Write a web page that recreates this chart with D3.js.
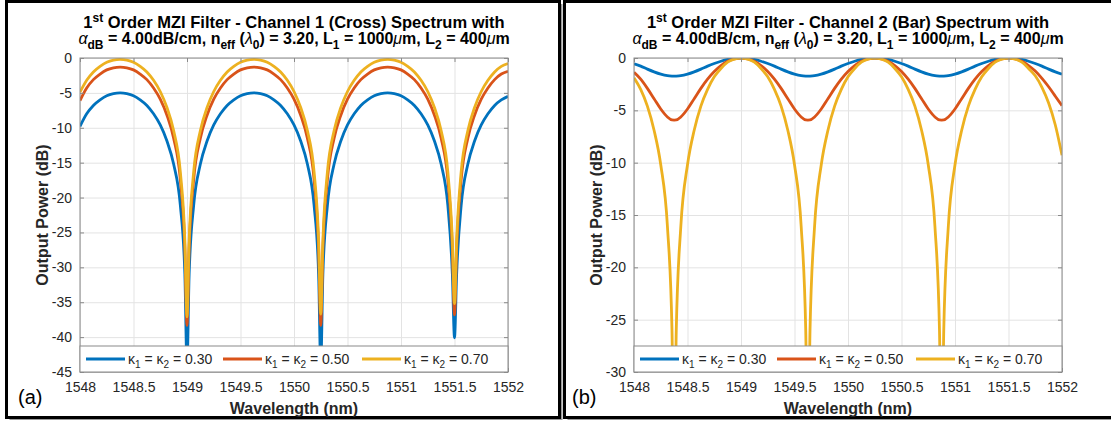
<!DOCTYPE html>
<html>
<head>
<meta charset="utf-8">
<script src="https://cdn.jsdelivr.net/npm/d3@7"></script>
<style>
  body { margin: 0; background: #fff; }
  svg { display: block; font-family: "Liberation Sans", Arial, Helvetica, sans-serif; }
  text { white-space: pre; }
  .tick text { font-size: 14px; fill: #262626; }
  .grid line { stroke: #e3e3e3; stroke-width: 1; }
  .grid path { display: none; }
  .ax path { display: none; }
  .ax line { stroke: #8a8a8a; }
</style>
</head>
<body>
<svg width="1111" height="423"></svg>
<script>
const wlTicks = [1548, 1548.5, 1549, 1549.5, 1550, 1550.5, 1551, 1551.5, 1552];
const crossTicks = [0, -5, -10, -15, -20, -25, -30, -35, -40, -45];
const barTicks = [0, -5, -10, -15, -20, -25, -30];
const kappaLabels = ["0.30", "0.50", "0.70"];
const kappaColors = ["#0072BD", "#D95319", "#EDB120"];

// channel 1 (cross) spectrum
const crossWl = [1548, 1548.0625, 1548.125, 1548.1875, 1548.25, 1548.3125, 1548.375, 1548.4375, 1548.5, 1548.5625, 1548.625, 1548.6875, 1548.75, 1548.8125, 1548.875, 1548.9375,
  1548.98, 1549, 1549.02,
  1549.0625, 1549.125, 1549.1875, 1549.25, 1549.3125, 1549.375, 1549.4375, 1549.5, 1549.5625, 1549.625, 1549.6875, 1549.75, 1549.8125, 1549.875, 1549.9375, 1550, 1550.0625, 1550.125, 1550.1875,
  1550.23, 1550.25, 1550.27,
  1550.3125, 1550.375, 1550.4375, 1550.5, 1550.5625, 1550.625, 1550.6875, 1550.75, 1550.8125, 1550.875, 1550.9375, 1551, 1551.0625, 1551.125, 1551.1875, 1551.25, 1551.3125, 1551.375, 1551.4375,
  1551.48, 1551.5, 1551.52,
  1551.5625, 1551.625, 1551.6875, 1551.75, 1551.8125, 1551.875, 1551.9375, 1552];
const crossK30 = [-9.8, -8.0, -6.8, -6.0, -5.4, -5.1, -5.0, -5.1, -5.4, -6.0, -6.8, -8.0, -9.6, -11.9, -15.2, -21.1,
  -31.0, -44.0, -31.0,
  -21.1, -15.2, -11.9, -9.6, -8.0, -6.8, -6.0, -5.4, -5.1, -5.0, -5.1, -5.4, -6.0, -6.8, -8.0, -9.6, -11.9, -15.2, -21.1,
  -31.0, -44.0, -31.0,
  -21.1, -15.2, -11.9, -9.6, -8.0, -6.8, -6.0, -5.4, -5.1, -5.0, -5.1, -5.4, -6.0, -6.8, -8.0, -9.6, -11.9, -15.2, -21.1,
  -31.0, -40.1, -31.0,
  -21.1, -15.2, -11.9, -9.6, -8.0, -6.8, -6.0, -5.5];
const crossK50 = [-6.1, -4.3, -3.1, -2.3, -1.7, -1.4, -1.3, -1.4, -1.7, -2.3, -3.1, -4.3, -5.9, -8.2, -11.5, -17.4,
  -27.3, -38.3, -27.3,
  -17.4, -11.5, -8.2, -5.9, -4.3, -3.1, -2.3, -1.7, -1.4, -1.3, -1.4, -1.7, -2.3, -3.1, -4.3, -5.9, -8.2, -11.5, -17.4,
  -27.3, -38.3, -27.3,
  -17.4, -11.5, -8.2, -5.9, -4.3, -3.1, -2.3, -1.7, -1.4, -1.3, -1.4, -1.7, -2.3, -3.1, -4.3, -5.9, -8.2, -11.5, -17.4,
  -27.3, -36.8, -27.3,
  -17.4, -11.5, -8.2, -5.9, -4.3, -3.1, -2.3, -1.9];
const crossK70 = [-4.9, -3.2, -2.0, -1.2, -0.6, -0.3, -0.2, -0.3, -0.6, -1.2, -2.0, -3.2, -4.8, -7.1, -10.4, -16.3,
  -26.2, -37.1, -26.2,
  -16.3, -10.4, -7.1, -4.8, -3.2, -2.0, -1.2, -0.6, -0.3, -0.2, -0.3, -0.6, -1.2, -2.0, -3.2, -4.8, -7.1, -10.4, -16.3,
  -26.2, -36.7, -26.2,
  -16.3, -10.4, -7.1, -4.8, -3.2, -2.0, -1.2, -0.6, -0.3, -0.2, -0.3, -0.6, -1.2, -2.0, -3.2, -4.8, -7.1, -10.4, -16.3,
  -26.2, -35.2, -26.2,
  -16.3, -10.4, -7.1, -4.8, -3.2, -2.0, -1.2, -0.8];

// channel 2 (bar) spectrum
const barWl = [1548, 1548.0625, 1548.125, 1548.1875, 1548.25, 1548.3125,
  1548.355, 1548.375, 1548.395,
  1548.4375, 1548.5, 1548.5625, 1548.625, 1548.6875, 1548.75, 1548.8125, 1548.875, 1548.9375, 1549, 1549.0625, 1549.125, 1549.1875, 1549.25, 1549.3125, 1549.375, 1549.4375, 1549.5, 1549.5625,
  1549.605, 1549.625, 1549.645,
  1549.6875, 1549.75, 1549.8125, 1549.875, 1549.9375, 1550, 1550.0625, 1550.125, 1550.1875, 1550.25, 1550.3125, 1550.375, 1550.4375, 1550.5, 1550.5625, 1550.625, 1550.6875, 1550.75, 1550.8125,
  1550.855, 1550.875, 1550.895,
  1550.9375, 1551, 1551.0625, 1551.125, 1551.1875, 1551.25, 1551.3125, 1551.375, 1551.4375, 1551.5, 1551.5625, 1551.625, 1551.6875, 1551.75, 1551.8125, 1551.875, 1551.9375, 1552];
const barK30 = [-0.55, -0.78, -1.06, -1.32, -1.54, -1.69,
  -1.73, -1.74, -1.73,
  -1.69, -1.54, -1.32, -1.06, -0.78, -0.53, -0.31, -0.14, -0.03, 0.0, -0.03, -0.14, -0.31, -0.53, -0.78, -1.06, -1.32, -1.54, -1.69,
  -1.73, -1.74, -1.73,
  -1.69, -1.54, -1.32, -1.06, -0.78, -0.53, -0.31, -0.14, -0.03, 0.0, -0.03, -0.14, -0.31, -0.53, -0.78, -1.06, -1.32, -1.54, -1.69,
  -1.73, -1.74, -1.73,
  -1.69, -1.54, -1.32, -1.06, -0.78, -0.53, -0.31, -0.14, -0.03, 0.0, -0.03, -0.14, -0.31, -0.53, -0.78, -1.06, -1.32, -1.54];
const barK50 = [-1.37, -2.02, -2.90, -3.89, -4.87, -5.63,
  -5.92, -5.93, -5.92,
  -5.63, -4.87, -3.89, -2.90, -2.02, -1.29, -0.72, -0.32, -0.08, 0.0, -0.08, -0.32, -0.72, -1.29, -2.02, -2.90, -3.89, -4.87, -5.63,
  -5.92, -5.93, -5.92,
  -5.63, -4.87, -3.89, -2.90, -2.02, -1.29, -0.72, -0.32, -0.08, 0.0, -0.08, -0.32, -0.72, -1.29, -2.02, -2.90, -3.89, -4.87, -5.63,
  -5.92, -5.93, -5.92,
  -5.63, -4.87, -3.89, -2.90, -2.02, -1.29, -0.72, -0.32, -0.08, 0.0, -0.08, -0.32, -0.72, -1.25, -1.95, -2.75, -3.65, -4.55];
const barK70 = [-1.9, -3.0, -4.6, -6.9, -10.2, -16.1,
  -26.0, -40.0, -26.0,
  -16.1, -10.2, -6.9, -4.6, -3.0, -1.8, -1.0, -0.4, -0.1, 0.0, -0.1, -0.4, -1.0, -1.8, -3.0, -4.6, -6.9, -10.2, -16.1,
  -26.0, -40.0, -26.0,
  -16.1, -10.2, -6.9, -4.6, -3.0, -1.8, -1.0, -0.4, -0.1, 0.0, -0.1, -0.4, -1.0, -1.8, -3.0, -4.6, -6.9, -10.2, -16.1,
  -26.0, -40.0, -26.0,
  -16.1, -10.2, -6.9, -4.6, -3.0, -1.8, -1.0, -0.4, -0.1, 0.0, -0.1, -0.4, -1.0, -1.7, -2.8, -4.3, -6.4, -9.3];

const svg = d3.select("svg");

// append text made of plain / sub / sup / greek pieces
function richText(sel, parts, size) {
    let shift = 0;
    parts.forEach(function(p) {
        let kind = p[1] || "n";
        let target = 0, fs = size;
        if(kind == "sub"){ target = Math.round(size * 0.3); fs = Math.round(size * 0.72); }
        if(kind == "sup"){ target = -Math.round(size * 0.38); fs = Math.round(size * 0.72); }
        let t = sel.append("tspan")
            .attr("dy", target - shift)
            .attr("font-size", fs + "px")
            .text(p[0]);
        if(kind == "gr"){
            t.attr("font-style", "italic").attr("font-weight", "normal");
        }
        shift = target;
    });
}

function drawPanel(cfg){
    const top = 58, bottom = 372;
    const left = cfg.left, right = cfg.left + 428;

    let x = d3.scaleLinear().domain([1548, 1552]).range([left, right]);
    let y = d3.scaleLinear().domain([cfg.yTicks[cfg.yTicks.length - 1], 0]).range([bottom, top]);

    // panel frame with shadow
    svg.append("rect")
        .attr("x", cfg.frameX + 3).attr("y", 4)
        .attr("width", cfg.frameW).attr("height", 416)
        .attr("fill", "#9a9a9a");
    svg.append("rect")
        .attr("x", cfg.frameX).attr("y", 1.5)
        .attr("width", cfg.frameW).attr("height", 416)
        .attr("fill", "#fff")
        .attr("stroke", "#000")
        .attr("stroke-width", 3);

    // grid
    svg.append("g")
        .attr("class", "grid")
        .attr("transform", "translate(0," + bottom + ")")
        .call(d3.axisBottom(x).tickValues(wlTicks).tickSize(-(bottom - top)).tickFormat(""));
    svg.append("g")
        .attr("class", "grid")
        .attr("transform", "translate(" + left + ",0)")
        .call(d3.axisLeft(y).tickValues(cfg.yTicks).tickSize(-(right - left)).tickFormat(""));

    // curves
    let clipId = "clip-" + cfg.name;
    svg.append("clipPath")
        .attr("id", clipId)
        .append("rect")
        .attr("x", left).attr("y", top)
        .attr("width", right - left).attr("height", bottom - top);

    let line = d3.line()
        .x(function(d) { return x(d[0]); })
        .y(function(d) { return y(d[1]); })
        .curve(d3.curveMonotoneX);

    let plot = svg.append("g").attr("clip-path", "url(#" + clipId + ")");
    cfg.series.forEach(function(vals, i) {
        plot.append("path")
            .datum(d3.zip(cfg.wl, vals))
            .attr("fill", "none")
            .attr("stroke", kappaColors[i])
            .attr("stroke-width", 2.8)
            .attr("stroke-linejoin", "round")
            .attr("d", line);
    });

    // axes (ticks pointing inward, on all four sides)
    svg.append("g")
        .attr("class", "ax")
        .attr("transform", "translate(0," + bottom + ")")
        .call(d3.axisBottom(x).tickValues(wlTicks).tickSizeInner(-4).tickSizeOuter(0).tickPadding(10)
            .tickFormat(d3.format("")));
    svg.append("g")
        .attr("class", "ax")
        .attr("transform", "translate(0," + top + ")")
        .call(d3.axisTop(x).tickValues(wlTicks).tickSizeInner(-4).tickSizeOuter(0).tickFormat(""));
    svg.append("g")
        .attr("class", "ax")
        .attr("transform", "translate(" + left + ",0)")
        .call(d3.axisLeft(y).tickValues(cfg.yTicks).tickSizeInner(-4).tickSizeOuter(0).tickPadding(8)
            .tickFormat(function(d) { return d == 0 ? "0" : "-" + Math.abs(d); }));
    svg.append("g")
        .attr("class", "ax")
        .attr("transform", "translate(" + right + ",0)")
        .call(d3.axisRight(y).tickValues(cfg.yTicks).tickSizeInner(-4).tickSizeOuter(0).tickFormat(""));
    svg.append("rect")
        .attr("x", left).attr("y", top)
        .attr("width", right - left).attr("height", bottom - top)
        .attr("fill", "none")
        .attr("stroke", "#8a8a8a")
        .attr("stroke-width", 1);

    // legend
    let legTop = 346;
    svg.append("rect")
        .attr("x", left).attr("y", legTop)
        .attr("width", right - left).attr("height", bottom - legTop)
        .attr("fill", "#fff")
        .attr("stroke", "#8a8a8a")
        .attr("stroke-width", 1);
    let entryX = [6, 143, 282];
    kappaLabels.forEach(function(lab, i) {
        let ex = left + entryX[i];
        let ey = (legTop + bottom) / 2;
        svg.append("line")
            .attr("x1", ex).attr("x2", ex + 39)
            .attr("y1", ey).attr("y2", ey)
            .attr("stroke", kappaColors[i])
            .attr("stroke-width", 2.8);
        let t = svg.append("text")
            .attr("x", ex + 42).attr("y", ey + 5)
            .attr("font-size", "14px")
            .attr("fill", "#262626");
        richText(t, [["κ"], ["1", "sub"], [" = κ"], ["2", "sub"], [" = " + lab]], 14);
    });

    // titles and labels
    let cx = (left + right) / 2;
    let t1 = svg.append("text")
        .attr("x", cx).attr("y", 28)
        .attr("text-anchor", "middle")
        .attr("font-weight", "bold")
        .attr("fill", "#000");
    richText(t1, [["1"], ["st", "sup"], [" Order MZI Filter - " + cfg.channel + " Spectrum with"]], 16.5);

    let t2 = svg.append("text")
        .attr("x", cx).attr("y", 44)
        .attr("text-anchor", "middle")
        .attr("font-weight", "bold")
        .attr("fill", "#000");
    richText(t2, [["α", "gr"], ["dB", "sub"], [" = 4.00dB/cm, n"], ["eff", "sub"], [" ("], ["λ", "gr"], ["0", "sub"],
        [") = 3.20, L"], ["1", "sub"], [" = 1000"], ["μ", "gr"], ["m, L"], ["2", "sub"], [" = 400"], ["μ", "gr"], ["m"]], 16);

    svg.append("text")
        .attr("x", cx).attr("y", 414)
        .attr("text-anchor", "middle")
        .attr("font-size", "16px")
        .attr("font-weight", "bold")
        .attr("fill", "#262626")
        .text("Wavelength (nm)");

    svg.append("text")
        .attr("transform", "translate(" + (left - 32) + "," + ((top + bottom) / 2) + ") rotate(-90)")
        .attr("text-anchor", "middle")
        .attr("font-size", "16px")
        .attr("font-weight", "bold")
        .attr("fill", "#262626")
        .text("Output Power (dB)");

    svg.append("text")
        .attr("x", cfg.frameX + cfg.tagOffset).attr("y", 404)
        .attr("font-size", "20px")
        .attr("fill", "#000")
        .text(cfg.tag);
}

drawPanel({
    name: "cross", left: 80, frameX: 6.5, frameW: 553, tagOffset: 11.5, tag: "(a)",
    channel: "Channel 1 (Cross)", yTicks: crossTicks, wl: crossWl,
    series: [crossK30, crossK50, crossK70]
});
drawPanel({
    name: "bar", left: 634, frameX: 564.5, frameW: 560, tagOffset: 7.5, tag: "(b)",
    channel: "Channel 2 (Bar)", yTicks: barTicks, wl: barWl,
    series: [barK30, barK50, barK70]
});
</script>
</body>
</html>
